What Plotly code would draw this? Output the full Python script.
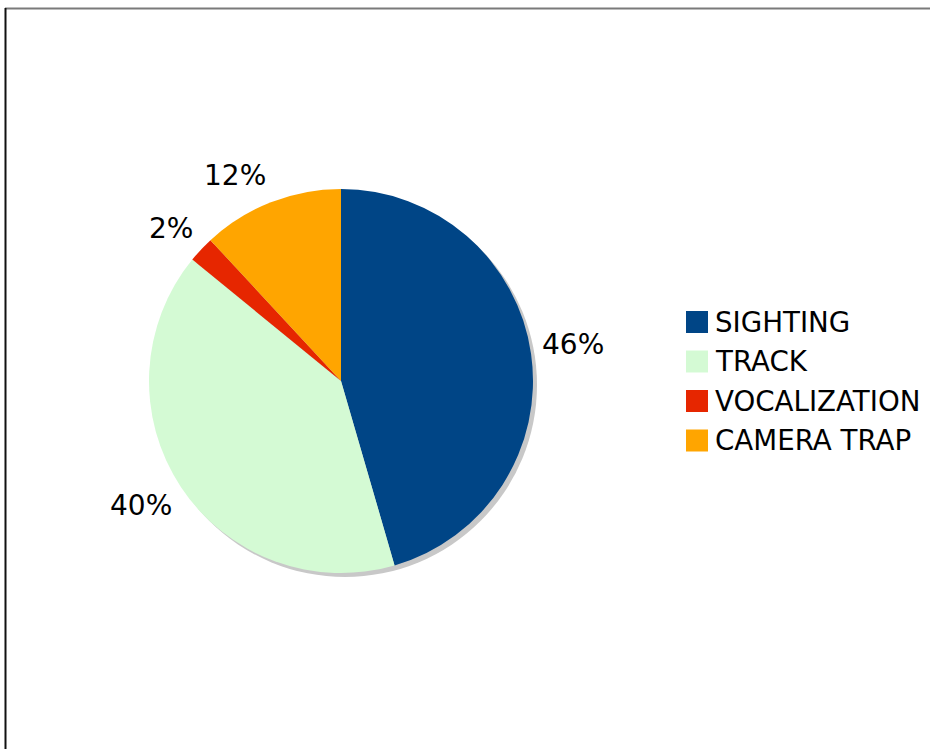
import math
import plotly.graph_objects as go

# ---- data ----
labels = ["SIGHTING", "TRACK", "VOCALIZATION", "CAMERA TRAP"]
values = [45.5, 40.4, 2.2, 11.9]
colors = ["#004586", "#d4fad4", "#e62600", "#ffa500"]

W, H = 930, 749
cx, cy, r = 341, 381, 192
shadow_off = 4
FONT = "DejaVu Sans"
FS_LAB = 28
FS_LEG = 27.7


def dom(cx_, cy_, r_):
    return dict(x=[(cx_ - r_) / W, (cx_ + r_) / W],
                y=[(H - cy_ - r_) / H, (H - cy_ + r_) / H])


fig = go.Figure()

# shadow pie
fig.add_trace(go.Pie(
    labels=["shadow"], values=[1], marker=dict(colors=["#c8c8c8"], line=dict(width=0)),
    domain=dom(cx + shadow_off, cy + shadow_off, r), textinfo="none", hoverinfo="skip",
    showlegend=False, sort=False,
))

# main pie
fig.add_trace(go.Pie(
    labels=labels, values=values, sort=False, direction="clockwise", rotation=0,
    marker=dict(colors=colors, line=dict(width=0)),
    domain=dom(cx, cy, r),
    textinfo="none", showlegend=False,
))

shapes = []
annotations = []

# percentage labels placed outside the slices (computed from the values)
total = sum(values)
cum = 0.0
Rx, Ry = r + 10, r + 13
for v in values:
    frac = v / total
    theta = 2 * math.pi * (cum + frac / 2)
    cum += frac
    s, c = math.sin(theta), math.cos(theta)
    px = cx + Rx * s
    py = cy - Ry * c
    xa = "left" if s >= 0 else "right"
    yc = py - math.copysign(6 + 9 * abs(c), c)
    annotations.append(dict(xref="paper", yref="paper", x=px / W, y=(H - yc) / H,
                            text=f"{round(frac * 100):d}%", showarrow=False,
                            xanchor=xa, yanchor="middle", borderpad=0,
                            font=dict(family=FONT, size=FS_LAB, color="#000000")))

# custom legend
leg_x, leg_y0, leg_dy, sq = 686, 322, 39.5, 22
for i, (lab, col) in enumerate(zip(labels, colors)):
    yc = leg_y0 + i * leg_dy
    shapes.append(dict(type="rect", xref="paper", yref="paper",
                       x0=leg_x / W, x1=(leg_x + sq) / W,
                       y0=(H - yc - sq / 2) / H, y1=(H - yc + sq / 2) / H,
                       fillcolor=col, line=dict(width=0)))
    annotations.append(dict(xref="paper", yref="paper", x=(leg_x + sq + 5) / W, y=(H - yc) / H,
                            text=lab, showarrow=False, xanchor="left", yanchor="middle",
                            font=dict(family=FONT, size=FS_LEG, color="#000000")))

# border lines
shapes.append(dict(type="line", xref="paper", yref="paper", x0=5 / W, x1=1.01,
                   y0=(H - 8.5) / H, y1=(H - 8.5) / H, line=dict(color="#7a7a7a", width=2)))
shapes.append(dict(type="line", xref="paper", yref="paper", x0=5.5 / W, x1=5.5 / W,
                   y0=-0.01, y1=(H - 8) / H, line=dict(color="#111111", width=2)))

fig.update_layout(
    width=W, height=H, margin=dict(l=0, r=0, t=0, b=0),
    paper_bgcolor="white", plot_bgcolor="white",
    font=dict(family=FONT, size=FS_LAB, color="#000000"),
    shapes=shapes, annotations=annotations,
)

fig.write_html("out.html")
